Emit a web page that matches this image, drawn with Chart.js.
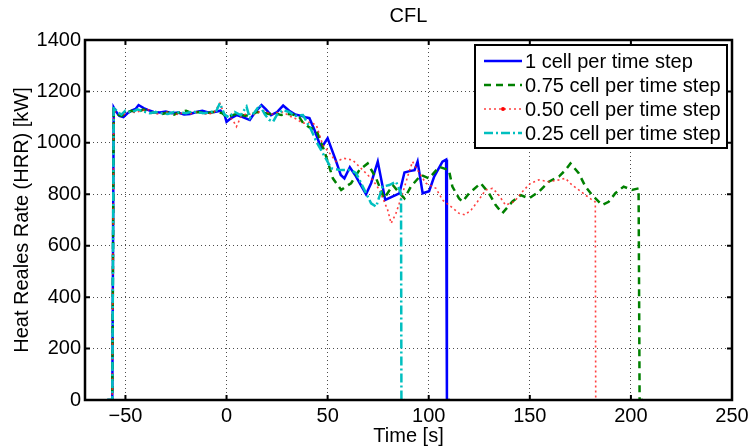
<!DOCTYPE html>
<html>
<head>
<meta charset="utf-8">
<script src="https://cdn.jsdelivr.net/npm/chart.js@4"></script>
<style>
  html, body { margin: 0; padding: 0; background: #fff; }
  #wrap { width: 748px; height: 448px; }
</style>
</head>
<body>
<div id="wrap"><canvas id="hrr" width="748" height="448"></canvas></div>
<script>
// --- Data ---
const chartTitle = 'CFL';
const xAxisTitle = 'Time [s]';
const yAxisTitle = 'Heat Reales Rate (HRR) [kW]';
const xTicks = [-50, 0, 50, 100, 150, 200, 250];
const yTicks = [0, 200, 400, 600, 800, 1000, 1200, 1400];
const seriesLabels = ['1 cell per time step', '0.75 cell per time step', '0.50 cell per time step', '0.25 cell per time step'];

// 1 cell per time step
const time100 = [-59, -56.5, -55.8, -54.5, -53, -51, -49, -47, -45, -43.5, -41, -39, -36, -33, -30, -27, -24, -21, -18, -15,
  -12, -9, -6, -3, -1, 0, 2, 5, 8, 11.5, 14, 17.3, 19.5, 22, 25, 28, 31, 34, 37, 39,
  41, 43.5, 46.8, 50, 54, 56.5, 58.3, 61, 64, 66.5, 69, 71.5, 74.8, 78.5, 82, 85.5, 88, 90.5, 93, 94.5,
  97, 100.2, 102.7, 106.8, 108.6, 109, 110.5];
const hrr100 = [0, 0, 1138, 1120, 1105, 1100, 1115, 1125, 1132, 1147, 1135, 1128, 1120, 1118, 1122, 1115, 1118, 1110, 1112, 1120,
  1125, 1118, 1120, 1125, 1110, 1082, 1095, 1108, 1100, 1089, 1118, 1147, 1130, 1108, 1120, 1145, 1125, 1110, 1105, 1100,
  1096, 1050, 979, 1018, 933, 875, 862, 905, 870, 835, 800, 843, 927, 778, 791, 804, 885, 890, 894, 927,
  804, 812, 869, 927, 935, 0, 0];

// 0.75 cell per time step
const time075 = [-59, -56.5, -55.8, -54, -52, -50, -47, -44, -41, -38, -35, -32, -29, -26, -23, -20, -17, -14, -11, -8,
  -5, -2, 0, 3, 6, 9, 12, 15, 18, 21, 24, 27, 30, 33, 36, 38, 41, 44.4, 48.5, 52.6,
  56.7, 59, 61.6, 65.7, 69.8, 74, 78, 82.2, 85, 88, 91.2, 96.2, 100.2, 105.2, 110, 111.7, 115, 116.7, 120, 125.7,
  129.8, 133.1, 136.4, 141.3, 145.5, 149.6, 154.5, 159.4, 164.4, 167.6, 170.1, 174.2, 177.5, 180.8, 185.7, 189, 192.3, 196.4, 200.5, 203.8,
  204.3, 206];
const hrr075 = [0, 0, 1125, 1110, 1105, 1115, 1125, 1120, 1130, 1115, 1120, 1112, 1118, 1110, 1120, 1125, 1115, 1120, 1115, 1118,
  1122, 1115, 1100, 1108, 1115, 1105, 1110, 1120, 1118, 1112, 1115, 1108, 1112, 1110, 1100, 1076, 1060, 1050, 966, 862,
  817, 830, 843, 894, 920, 862, 784, 836, 810, 784, 830, 875, 862, 907, 894, 830, 784, 771, 804, 843,
  804, 758, 726, 771, 797, 784, 810, 849, 869, 894, 920, 882, 830, 797, 758, 771, 804, 830, 817, 823,
  0, 0];

// 0.50 cell per time step
const time050 = [-59, -56.5, -55.8, -54, -51, -48, -45, -42, -39, -36, -33, -30, -27, -24, -21, -18, -15, -12, -9, -6,
  -3.3, -1, 1, 3, 4.9, 7, 10, 13, 16, 19, 22, 25, 28, 31, 34, 37.8, 41, 44.4, 47.6, 51,
  54.2, 58, 62.4, 67.4, 72.3, 75.6, 79.7, 81.4, 83.8, 87.1, 90, 92, 94.5, 98.6, 103.6, 106.8, 111, 115, 118, 121,
  124, 128.2, 131.5, 134, 138, 142.2, 147.1, 150.4, 154.5, 159.4, 164.4, 167.6, 170.9, 174.2, 177.5, 180.8, 182.4, 182.6, 184];
const hrr050 = [0, 0, 1125, 1115, 1110, 1120, 1118, 1125, 1130, 1115, 1112, 1120, 1115, 1110, 1118, 1112, 1120, 1115, 1110, 1120,
  1154, 1110, 1100, 1090, 1063, 1100, 1115, 1108, 1120, 1125, 1110, 1118, 1120, 1105, 1095, 1076, 1080, 1070, 992, 960,
  927, 940, 933, 894, 856, 817, 739, 687, 726, 804, 880, 927, 894, 843, 823, 778, 752, 726, 720, 739,
  770, 817, 823, 804, 758, 771, 817, 843, 856, 849, 856, 862, 836, 817, 797, 778, 770, 0, 0];

// 0.25 cell per time step
const time025 = [-59, -56.5, -55.8, -54, -52, -50, -47, -44, -41, -38, -35, -32, -29, -26, -23, -20, -17, -14, -11, -8,
  -5, -3.3, -1, 1, 4, 7, 9.9, 11.5, 14, 16.4, 19, 21, 23, 25, 27.9, 31, 34, 37.8, 41.9, 44.4,
  47.6, 51.8, 56.7, 61.6, 64.1, 67.4, 71.5, 74, 77.2, 80.5, 83.8, 86.3, 86.5, 88];
const hrr025 = [0, 0, 1140, 1120, 1110, 1125, 1118, 1130, 1122, 1115, 1120, 1115, 1112, 1120, 1118, 1115, 1122, 1118, 1115, 1120,
  1125, 1154, 1110, 1100, 1120, 1108, 1141, 1096, 1120, 1147, 1110, 1090, 1082, 1110, 1128, 1120, 1105, 1108, 1050, 1005,
  960, 901, 894, 894, 882, 830, 765, 752, 830, 836, 849, 804, 0, 0];

// --- Styling ---
const FONT = '"Liberation Sans", Arial, Helvetica, sans-serif';
const FONT_SIZE = 20;
Chart.defaults.font.family = FONT;
Chart.defaults.color = '#000';

const series = [
  { t: time100, q: hrr100, color: '#0000ff', width: 2.5, dash: [], order: 4 },
  { t: time075, q: hrr075, color: '#008000', width: 2.5, dash: [7, 5], order: 3 },
  { t: time050, q: hrr050, color: 'rgba(255,30,30,0.85)', width: 1.6, dash: [2, 3], order: 2 },
  { t: time025, q: hrr025, color: '#00bfbf', width: 2.5, dash: [9, 3, 2, 3], order: 1 },
];

// frame, inner ticks, title and boxed legend like a MATLAB figure
const matlabFrame = {
  id: 'matlabFrame',
  afterDraw(chart) {
    const { ctx, chartArea: a, scales: { x, y } } = chart;
    ctx.save();
    ctx.strokeStyle = '#000';
    ctx.lineWidth = 2;
    ctx.setLineDash([]);
    ctx.beginPath();
    xTicks.forEach(v => {
      const px = x.getPixelForValue(v);
      ctx.moveTo(px, a.bottom); ctx.lineTo(px, a.bottom - 5);
      ctx.moveTo(px, a.top); ctx.lineTo(px, a.top + 5);
    });
    yTicks.forEach(v => {
      const py = y.getPixelForValue(v);
      ctx.moveTo(a.left, py); ctx.lineTo(a.left + 5, py);
      ctx.moveTo(a.right, py); ctx.lineTo(a.right - 5, py);
    });
    ctx.stroke();
    ctx.lineWidth = 2.5;
    ctx.strokeRect(a.left, a.top, a.right - a.left, a.bottom - a.top);

    // title
    ctx.fillStyle = '#000';
    ctx.font = FONT_SIZE + 'px ' + FONT;
    ctx.textAlign = 'center';
    ctx.textBaseline = 'middle';
    ctx.fillText(chartTitle, (a.left + a.right) / 2, 16);

    // legend
    const bx = a.right - 257, by = a.top + 5, bw = 252, bh = 103;
    ctx.fillStyle = '#fff';
    ctx.fillRect(bx, by, bw, bh);
    ctx.lineWidth = 2;
    ctx.strokeRect(bx, by, bw, bh);
    ctx.textAlign = 'left';
    chart.data.datasets.forEach((ds, i) => {
      const ry = by + 16 + i * 24;
      ctx.strokeStyle = ds.borderColor;
      ctx.lineWidth = ds.borderWidth;
      ctx.setLineDash(ds.borderDash);
      ctx.beginPath();
      ctx.moveTo(bx + 9, ry);
      ctx.lineTo(bx + 47, ry);
      ctx.stroke();
      ctx.setLineDash([]);
      if (i === 2) {
        ctx.fillStyle = '#ff0000';
        ctx.beginPath();
        ctx.arc(bx + 28, ry, 2, 0, Math.PI * 2);
        ctx.fill();
      }
      ctx.fillStyle = '#000';
      ctx.fillText(ds.label, bx + 50, ry + 1);
    });
    ctx.restore();
  }
};

const ctx = document.getElementById('hrr').getContext('2d');
new Chart(ctx, {
  type: 'line',
  data: {
    datasets: series.map((s, i) => ({
      label: seriesLabels[i],
      data: s.t.map((t, j) => ({ x: t, y: s.q[j] })),
      borderColor: s.color,
      borderWidth: s.width,
      borderDash: s.dash,
      order: s.order,
      pointRadius: 0,
      fill: false,
      tension: 0,
    }))
  },
  options: {
    responsive: false,
    animation: false,
    devicePixelRatio: 1,
    layout: { padding: { left: 0, right: 0, top: 40, bottom: 0 } },
    plugins: {
      legend: { display: false },
      tooltip: { enabled: false },
      title: { display: false },
    },
    scales: {
      x: {
        type: 'linear', min: -70, max: 250,
        afterBuildTicks: ax => { ax.ticks = xTicks.map(v => ({ value: v })); },
        afterFit: ax => { ax.height = 48; ax.paddingLeft = 0; ax.paddingRight = 16; },
        grid: { color: 'rgba(0,0,0,0.7)', lineWidth: 1, drawTicks: false },
        border: { display: false, dash: [1, 3] },
        ticks: {
          padding: 4, maxRotation: 0, color: '#000', font: { size: FONT_SIZE },
          callback: v => v < 0 ? '\u2212' + Math.abs(v) : String(v)
        },
        title: { display: true, text: xAxisTitle, color: '#000', font: { size: FONT_SIZE }, padding: { top: 0, bottom: 0 } }
      },
      y: {
        type: 'linear', min: 0, max: 1400,
        afterBuildTicks: ax => { ax.ticks = yTicks.map(v => ({ value: v })); },
        afterFit: ax => { ax.width = 85; },
        grid: { color: 'rgba(0,0,0,0.7)', lineWidth: 1, drawTicks: false },
        border: { display: false, dash: [1, 3] },
        ticks: { padding: 4, color: '#000', font: { size: FONT_SIZE }, callback: v => String(v) },
        title: { display: true, text: yAxisTitle, color: '#000', font: { size: FONT_SIZE }, padding: { top: 10, bottom: 0 } }
      }
    }
  },
  plugins: [matlabFrame]
});
</script>
</body>
</html>
